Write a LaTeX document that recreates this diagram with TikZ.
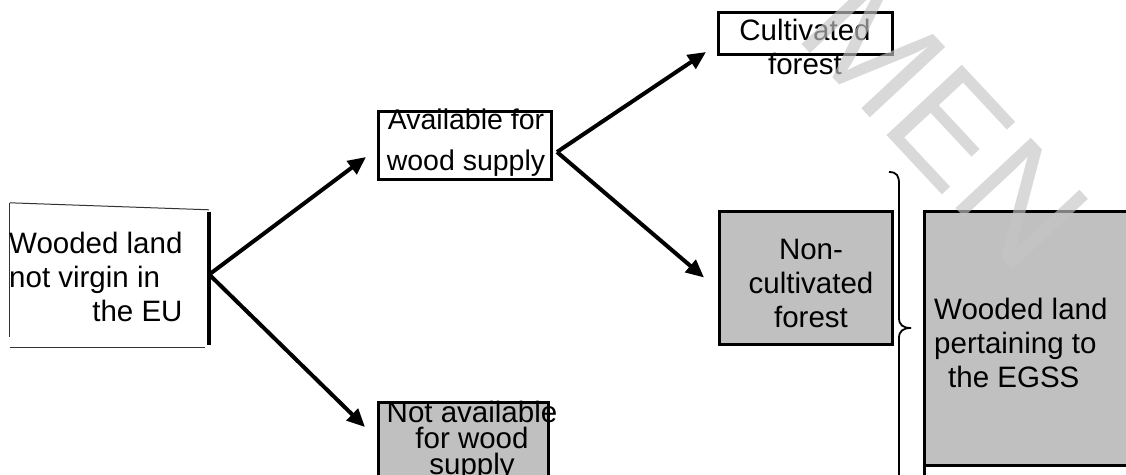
\documentclass[tikz,border=0pt]{standalone}
\usepackage{fontspec}
\setmainfont{Liberation Sans}
\usetikzlibrary{arrows.meta}
\definecolor{boxgray}{HTML}{C0C0C0}
\definecolor{wmgray}{HTML}{C5C5C5}
\begin{document}
\begin{tikzpicture}[x=1pt,y=-1pt,
  box/.style={draw, line width=3pt, inner sep=0pt, outer sep=0pt},
  shaded/.style={box, fill=boxgray},
  txt/.style={font=\fontsize{29.5}{34}\selectfont, align=center, inner sep=0pt},
  arr/.style={line width=4pt, -{Triangle[length=18pt,width=16pt]}},
  thinline/.style={line width=1pt, black!80},
  watermark/.style={text=wmgray, opacity=0.65, rotate=-47, font=\fontsize{150}{150}\selectfont}
]
\useasboundingbox (0,0) rectangle (1126,474);
% left box (open lines)
\node[inner sep=0pt, minimum width=199pt, minimum height=143pt] (lb) at (109.5,274.5) {};
\draw[thinline] (lb.north west) -- ([yshift=-7pt]lb.north east);
\draw[thinline] (lb.north west) -- ([yshift=9pt]lb.south west);
\draw[thinline] ([yshift=-1pt]lb.south west) -- ([xshift=-4pt,yshift=-1pt]lb.south east);
\draw[line width=4pt] ([yshift=-9pt]lb.north east) -- ([yshift=1pt]lb.south east);
\node[txt, anchor=west] (lbt) at (9,281) {\begin{tabular}{@{}l@{}}Wooded land\\not virgin in\\\multicolumn{1}{@{}r@{}}{the EU}\end{tabular}};
% available
\node[box, minimum width=173pt, minimum height=68pt] (av) at (464.5,145) {};
\node[txt, font=\fontsize{28.5}{41}\selectfont] (avt) at (466,143) {Available for\\wood supply};
% cultivated
\node[box, minimum width=174pt, minimum height=42pt] (cf) at (805,33) {};
\node[txt] (cft) at (805,47) {Cultivated\\forest};
% non-cultivated
\node[shaded, minimum width=173pt, minimum height=133pt] (nc) at (805.5,277.5) {};
\node[txt] (nct) at (811,283) {Non-\\cultivated\\forest};
% not available
\node[shaded, minimum width=170pt, minimum height=110pt] (na) at (463,457) {};
\node[txt, font=\fontsize{29.5}{26}\selectfont] (nat) at (472,441) {Not available\\for wood\\supply};
% EGSS
\node[shaded, minimum width=216pt, minimum height=254pt] (eg) at (1032,338) {};
\draw[line width=3pt] (eg.south west) -- ++(0,12);
\node[txt, anchor=west] (egt) at (934,347) {\begin{tabular}{@{}l@{}}Wooded land\\pertaining to\\\hspace*{14pt}the EGSS\end{tabular}};
% brace
\draw[line width=1.8pt] (889,172) .. controls (897,172) and (899,176) .. (899,184) -- (899,318)
  .. controls (899,325) and (903,328) .. (911,328) .. controls (903,328) and (899,331) .. (899,338) -- (899,480);
% arrows
\draw[arr] (lb.east) -- ([xshift=-12pt,yshift=-12pt]av.west);
\draw[arr] (lb.east) -- ([xshift=-13pt,yshift=-25pt]na.north west);
\draw[arr] ([xshift=6pt,yshift=-7pt]av.east) -- ([xshift=-12pt,yshift=-19pt]cf.west);
\draw[arr] ([xshift=6pt,yshift=-7pt]av.east) -- ([xshift=-15pt]nc.west);
% watermark
\node[watermark] (wm) at (945,122) {MEN};
\end{tikzpicture}
\end{document}
